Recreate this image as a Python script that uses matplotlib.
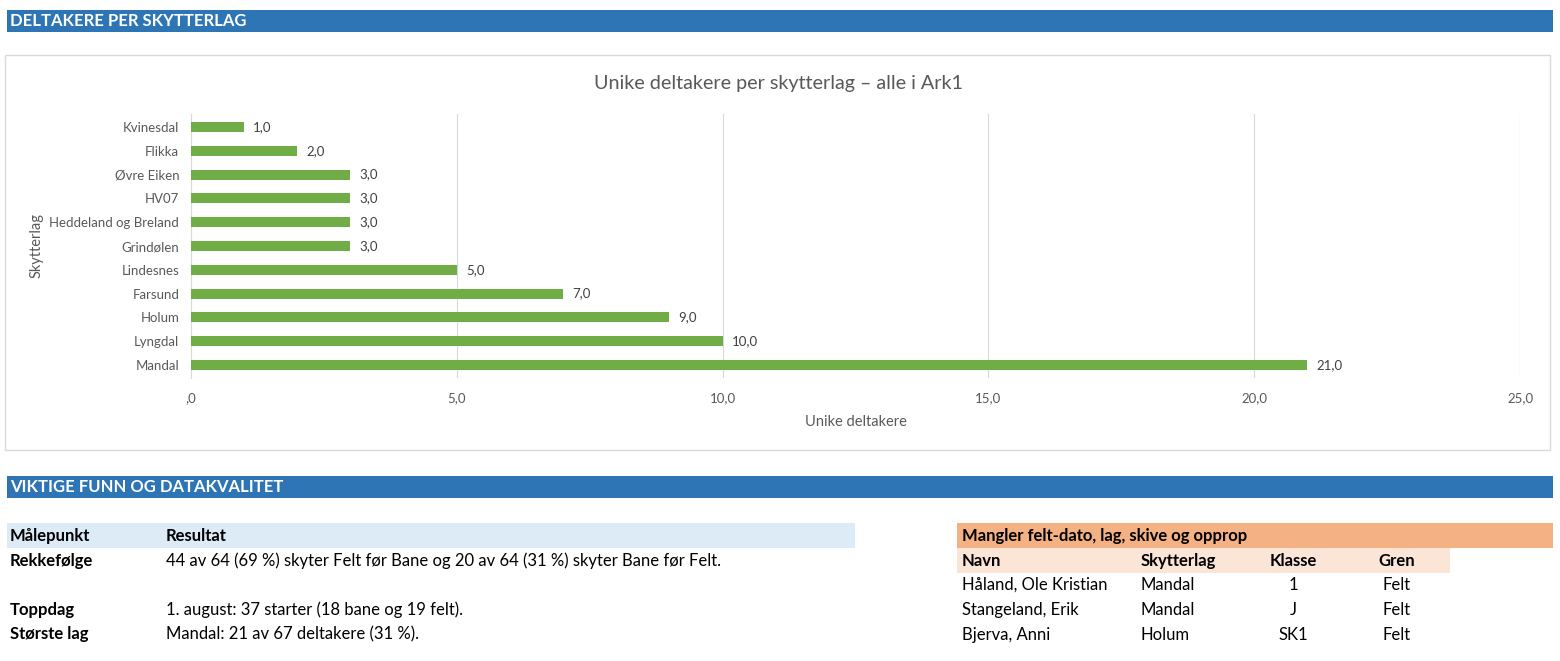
import matplotlib.pyplot as plt
from matplotlib.patches import Rectangle

plt.rcParams['font.family'] = ['Lato', 'DejaVu Sans']

# Data
lag = ['Mandal', 'Lyngdal', 'Holum', 'Farsund', 'Lindesnes', 'Grindølen',
       'Heddeland og Breland', 'HV07', 'Øvre Eiken', 'Flikka', 'Kvinesdal']
deltakere = [21, 10, 9, 7, 5, 3, 3, 3, 3, 2, 1]
x_ticks = [0, 5, 10, 15, 20, 25]

funn_punkt = ['Rekkefølge', 'Toppdag', 'Største lag']
funn_tekst = ['44 av 64 (69 %) skyter Felt før Bane og 20 av 64 (31 %) skyter Bane før Felt.',
              '1. august: 37 starter (18 bane og 19 felt).',
              'Mandal: 21 av 67 deltakere (31 %).']
funn_y = [561, 610, 634]

mangler_kol = ['Navn', 'Skytterlag', 'Klasse', 'Gren']
mangler_navn = ['Håland, Ole Kristian', 'Stangeland, Erik', 'Bjerva, Anni']
mangler_lag = ['Mandal', 'Mandal', 'Holum']
mangler_klasse = ['1', 'J', 'SK1']
mangler_gren = ['Felt', 'Felt', 'Felt']

W, H = 1560, 661
fig = plt.figure(figsize=(W / 100, H / 100), dpi=100)
fig.patch.set_facecolor('white')


def fx(px):
    return px / W


def fy(py):
    return 1 - py / H


def rect(x0, y0, x1, y1, fc, ec='none', lw=0):
    fig.patches.append(Rectangle((fx(x0), fy(y1)), fx(x1) - fx(x0), fy(y0) - fy(y1),
                                 transform=fig.transFigure, facecolor=fc,
                                 edgecolor=ec, linewidth=lw, zorder=-1))


def txt(x, y, s, **kw):
    kw.setdefault('va', 'center')
    kw.setdefault('ha', 'left')
    fig.text(fx(x), fy(y), s, **kw)


blue = '#2E75B6'
fs = 12

# Banners
rect(7, 10, 1553, 32, blue)
txt(10, 21, 'DELTAKERE PER SKYTTERLAG', color='white', fontsize=fs, fontweight='bold')
rect(7, 476, 1553, 498, blue)
txt(10, 487, 'VIKTIGE FUNN OG DATAKVALITET', color='white', fontsize=fs, fontweight='bold')

# Chart frame
rect(5, 55, 1550, 450, 'white', ec='#D9D9D9', lw=1)
txt(778, 83, 'Unike deltakere per skytterlag – alle i Ark1', ha='center',
    color='#595959', fontsize=14.2)

ax_l, ax_r = 191, 1520
ax = fig.add_axes([fx(ax_l), fy(378), fx(ax_r) - fx(ax_l), fy(114) - fy(378)])
ax.set_zorder(2)
ax.set_facecolor('none')
ypos = list(range(len(lag)))
ax.barh(ypos, deltakere, height=0.42, color='#70AD47', zorder=3)
for y, v in zip(ypos, deltakere):
    ax.text(v + 0.17, y, f'{v:.1f}'.replace('.', ','), va='center', ha='left',
            fontsize=9.5, color='#404040')
ax.set_xlim(0, 25)
ax.set_ylim(-0.55, len(lag) - 0.45)
ax.set_yticks(ypos)
ax.set_yticklabels(lag, fontsize=9.5, color='#595959')
ax.set_xticks(x_ticks)
ax.set_xticklabels([',0' if t == 0 else f'{t:.1f}'.replace('.', ',') for t in x_ticks],
                   fontsize=9.5, color='#595959')
ax.tick_params(axis='both', length=0)
ax.tick_params(axis='x', pad=10)
ax.tick_params(axis='y', pad=8.5)
ax.grid(True, axis='x', color='#D9D9D9', linewidth=0.8, zorder=0)
for s in ['top', 'right', 'bottom']:
    ax.spines[s].set_visible(False)
ax.spines['left'].set_color('#D9D9D9')
ax.set_xlabel('Unike deltakere', fontsize=10.5, color='#595959', labelpad=8)
ax.set_ylabel('Skytterlag', fontsize=10.5, color='#595959')
ax.yaxis.set_label_coords((44 - ax_l) / (ax_r - ax_l), 0.5)

# Findings table
rect(7, 523, 855, 548, '#DDEBF7')
txt(10, 536, 'Målepunkt', fontsize=fs, fontweight='bold', color='black')
txt(166, 536, 'Resultat', fontsize=fs, fontweight='bold', color='black')
for p, t, y in zip(funn_punkt, funn_tekst, funn_y):
    txt(10, y, p, fontsize=fs, fontweight='bold', color='black')
    txt(166, y, t, fontsize=fs, color='black')

# Missing data table
rect(957, 523, 1553, 548, '#F4B183')
txt(962, 536, 'Mangler felt-dato, lag, skive og opprop', fontsize=fs,
    fontweight='bold', color='black')
rect(957, 548, 1450, 573, '#FBE5D6')
col_x = [962, 1141, 1293, 1397]
col_ha = ['left', 'left', 'center', 'center']
for c, x, ha in zip(mangler_kol, col_x, col_ha):
    txt(x, 561, c, fontsize=fs, fontweight='bold', color='black', ha=ha)
for i, row in enumerate(zip(mangler_navn, mangler_lag, mangler_klasse, mangler_gren)):
    y = 585 + i * 25
    for v, x, ha in zip(row, col_x, col_ha):
        txt(x, y, v, fontsize=fs, color='black', ha=ha)

fig.savefig('out.png', dpi=100)
